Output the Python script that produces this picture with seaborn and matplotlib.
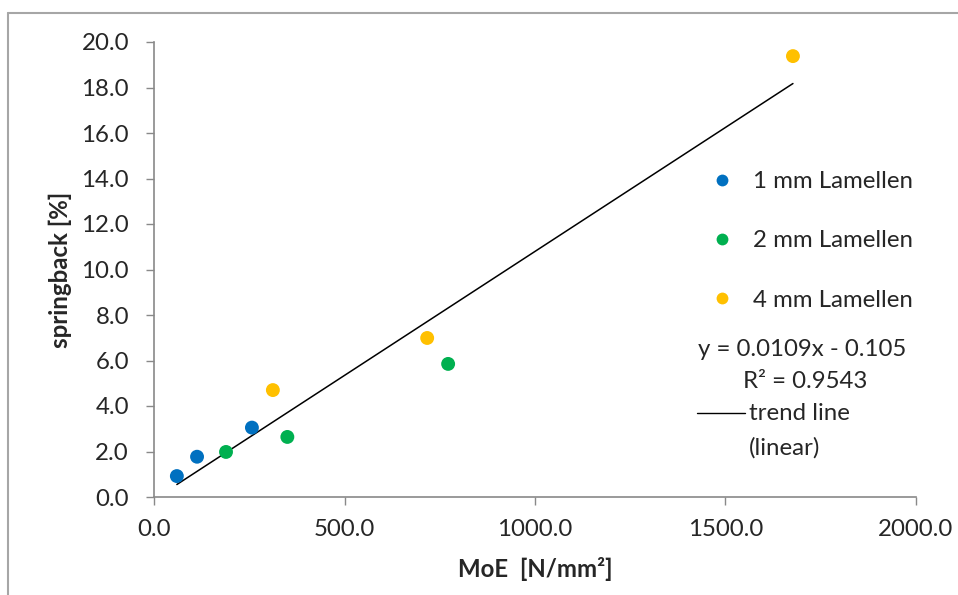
import numpy as np
import pandas as pd
import matplotlib
matplotlib.use("Agg")
import matplotlib.pyplot as plt
from matplotlib.lines import Line2D
import seaborn as sns

# ---- data ----
groups = ["1 mm Lamellen", "2 mm Lamellen", "4 mm Lamellen"]
moe_1mm = [60, 113, 257]
spring_1mm = [0.92, 1.77, 3.05]
moe_2mm = [189, 350, 772]
spring_2mm = [1.98, 2.64, 5.85]
moe_4mm = [312, 717, 1677]
spring_4mm = [4.70, 6.99, 19.38]
slope = 0.0109
intercept = -0.105
r2 = 0.9543
colors = ["#0070C0", "#00B050", "#FFC000"]
x_ticks = [0, 500, 1000, 1500, 2000]
y_ticks = [0, 2, 4, 6, 8, 10, 12, 14, 16, 18, 20]

df = pd.DataFrame({
    "MoE": moe_1mm + moe_2mm + moe_4mm,
    "springback": spring_1mm + spring_2mm + spring_4mm,
    "group": [groups[0]] * len(moe_1mm) + [groups[1]] * len(moe_2mm) + [groups[2]] * len(moe_4mm),
})

sns.set_theme(style="white")
plt.rcParams["font.family"] = ["Lato", "DejaVu Sans"]
FS = 17.3

W, H = 958, 595
fig = plt.figure(figsize=(W / 100, H / 100), dpi=100)
ax = fig.add_axes([154 / W, 1 - 497 / H, (916 - 154) / W, (497 - 42) / H])

sns.scatterplot(data=df, x="MoE", y="springback", hue="group", palette=colors,
                hue_order=groups, s=100, edgecolor="none", legend=False, ax=ax, zorder=3)

xr = np.array([min(df["MoE"]), max(df["MoE"])])
sns.lineplot(x=xr, y=slope * xr + intercept, color="black", lw=1.1, ax=ax, zorder=2)

ax.set_xlim(0, 2000)
ax.set_ylim(0, 20)
ax.set_xticks(x_ticks)
ax.set_yticks(y_ticks)
ax.set_xticklabels([f"{v:.1f}" for v in x_ticks], fontsize=FS)
ax.set_yticklabels([f"{v:.1f}" for v in y_ticks], fontsize=FS)
ax.tick_params(axis="both", direction="out", length=6, width=1, color="#898989",
               bottom=True, left=True, pad=12)
ax.tick_params(axis="x", pad=10)
for s in ["top", "right"]:
    ax.spines[s].set_visible(False)
for s in ["left", "bottom"]:
    ax.spines[s].set_color("#898989")
    ax.spines[s].set_linewidth(1.2)
ax.set_xlabel("MoE  [N/mm²]", fontsize=FS, fontweight="bold", labelpad=12)
ax.set_ylabel("springback [%]", fontsize=FS, fontweight="bold", labelpad=7)

# legend for groups
handles = [Line2D([], [], ls="none", marker="o", markersize=8.5, color=c, markeredgewidth=0) for c in colors]
leg = fig.legend(handles, groups, loc="upper left", bbox_to_anchor=(710.0 / W, 1 - 171 / H),
                 frameon=False, fontsize=FS, handlelength=1.0, handletextpad=0.78,
                 labelspacing=1.6, borderpad=0, borderaxespad=0)

# equation and trend line legend
fig.text(802 / W, 1 - 350 / H, f"y = {slope}x - {abs(intercept)}", ha="center", va="center", fontsize=FS)
fig.text(805 / W, 1 - 381 / H, f"R² = {r2}", ha="center", va="center", fontsize=FS)
fig.add_artist(Line2D([697 / W, 745 / W], [1 - 413 / H, 1 - 413 / H], color="black", lw=1.0,
                      transform=fig.transFigure))
fig.text(749 / W, 1 - 413 / H, "trend line", ha="left", va="center", fontsize=FS)
fig.text(749 / W, 1 - 448 / H, "(linear)", ha="left", va="center", fontsize=FS)

# outer chart border (only left and top visible)
fig.add_artist(Line2D([8 / W, 8 / W], [0, 1 - 13 / H], color="#A6A6A6", lw=1.5, transform=fig.transFigure))
fig.add_artist(Line2D([8 / W, 1], [1 - 13 / H, 1 - 13 / H], color="#A6A6A6", lw=1.5, transform=fig.transFigure))

fig.savefig("out.png", dpi=100)
